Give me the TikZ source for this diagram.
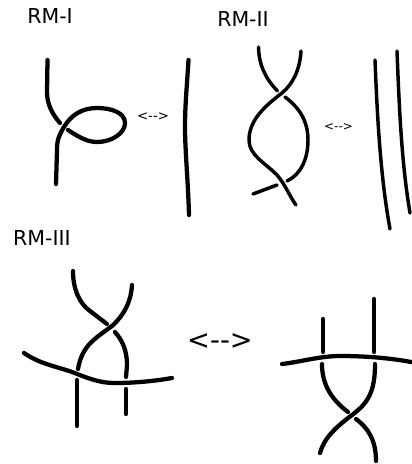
\documentclass[tikz,border=0pt]{standalone}
\usepackage{fontspec}
\setmainfont{DejaVu Sans}
\tikzset{
    strand/.style={line width=3.2pt, line cap=round, line join=round},
    thinstrand/.style={line width=2.6pt, line cap=round, line join=round},
    label/.style={font=\fontsize{15.4}{18}\selectfont, inner sep=0pt},
    swap/.style={inner sep=0pt}
}
\begin{document}
\begin{tikzpicture}[x=0.75pt, y=-0.75pt]
    \useasboundingbox (0,0) rectangle (411,464);

    \node[label] (rmone) at (50,16) {RM-I};
    \node[label] (rmtwo) at (243,19) {RM-II};
    \node[label] (rmthree) at (42,238) {RM-III};

    % RM-I
    \draw[strand] (47.5,60) -- (47,92) .. controls (47,105) and (53,115) .. (60,123);
    \draw[strand] (68,130) .. controls (80,138) and (88,142) .. (97,142) .. controls (112,142) and (125,133) .. (125,123)
        .. controls (125,113) and (112,108) .. (97,108) .. controls (82,108) and (71,115) .. (64,127)
        .. controls (59,135) and (57,140) .. (57,150) -- (56,184);
    \draw[strand] (188.5,60) .. controls (187,85) and (185,105) .. (185,127) .. controls (185,150) and (188,180) .. (189,215);
    \node[swap, font=\fontsize{10}{12}\selectfont] (swapone) at (153,117) {<{-}{-}>};

    % RM-II
    \draw[thinstrand] (258.5,47) .. controls (259,65) and (265,78) .. (277.5,91);
    \draw[thinstrand] (285,97) .. controls (300,108) and (308,122) .. (308,140) .. controls (308,160) and (300,175) .. (287,181);
    \draw[thinstrand] (277,185) -- (253,194);
    \draw[thinstrand] (301,51) .. controls (300,68) and (294,83) .. (282,93) .. controls (265,106) and (249,120) .. (249,140)
        .. controls (249,155) and (264,162) .. (277,175) .. controls (285,184) and (290,197) .. (296,205);
    \draw[thinstrand] (375,60) .. controls (377,110) and (380,175) .. (390,229);
    \draw[thinstrand] (397,51) .. controls (399,100) and (401,160) .. (410,213);
    \node[swap, font=\fontsize{9}{11}\selectfont] (swaptwo) at (338.5,127) {<{-}{-}>};

    % RM-III, left
    \draw[strand] (73,271) .. controls (73,290) and (80,304) .. (90,311) -- (107,324);
    \draw[strand] (115,332) .. controls (122,340) and (127,350) .. (127,365) -- (126,377);
    \draw[strand] (126,389) -- (126,414);
    \draw[strand] (132,285) .. controls (131,300) and (126,313) .. (112,326) .. controls (96,338) and (82,345) .. (78,369);
    \draw[strand] (77,380) -- (77,426);
    \draw[strand] (24,353) .. controls (40,364) and (55,366) .. (72,372) .. controls (90,379) and (100,383) .. (115,383)
        .. controls (135,383) and (155,381) .. (172,378);
    \node[swap, font=\fontsize{20.5}{24}\selectfont] (swapthree) at (220,342) {<{-}{-}>};

    % RM-III, right
    \draw[strand] (323,319) -- (323,352);
    \draw[strand] (374,299) -- (374,352);
    \draw[strand] (282,364) .. controls (300,362) and (320,356) .. (340,356) .. controls (365,356) and (390,358) .. (411,362);
    \draw[strand] (322,364) .. controls (322,385) and (332,400) .. (348,412);
    \draw[strand] (356,419) .. controls (368,428) and (376,440) .. (376,461);
    \draw[strand] (375,364) .. controls (375,392) and (368,403) .. (352,415) .. controls (336,427) and (324,438) .. (320,453);
\end{tikzpicture}
\end{document}
